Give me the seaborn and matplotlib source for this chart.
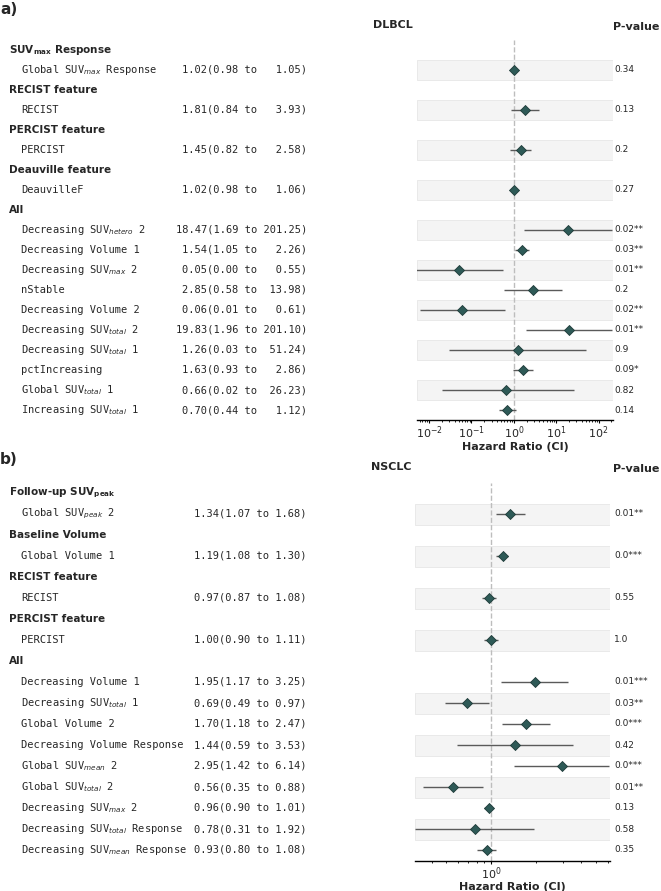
import numpy as np
import pandas as pd
import matplotlib
matplotlib.use("Agg")
import matplotlib.pyplot as plt
import matplotlib.transforms as mtransforms
from matplotlib.ticker import NullFormatter
import seaborn as sns

# ---- panel a) DLBCL ----
groups_a = ["SUV$_\\mathbf{max}$ Response", "RECIST feature", "PERCIST feature",
            "Deauville feature", "All"]
group_of_a = [0, 1, 2, 3] + [4] * 10
labels_a = ["Global SUV$_{max}$ Response", "RECIST", "PERCIST", "DeauvilleF",
            "Decreasing SUV$_{hetero}$ 2", "Decreasing Volume 1", "Decreasing SUV$_{max}$ 2",
            "nStable", "Decreasing Volume 2", "Decreasing SUV$_{total}$ 2",
            "Decreasing SUV$_{total}$ 1", "pctIncreasing", "Global SUV$_{total}$ 1",
            "Increasing SUV$_{total}$ 1"]
hr_a = [1.02, 1.81, 1.45, 1.02, 18.47, 1.54, 0.05, 2.85, 0.06, 19.83, 1.26, 1.63, 0.66, 0.70]
lo_a = [0.98, 0.84, 0.82, 0.98, 1.69, 1.05, 0.004, 0.58, 0.006, 1.96, 0.03, 0.93, 0.02, 0.44]
hi_a = [1.05, 3.93, 2.58, 1.06, 201.25, 2.26, 0.55, 13.98, 0.61, 201.10, 51.24, 2.86, 26.23, 1.12]
p_a = ["0.34", "0.13", "0.2", "0.27", "0.02**", "0.03**", "0.01**", "0.2", "0.02**",
       "0.01**", "0.9", "0.09*", "0.82", "0.14"]

# ---- panel b) NSCLC ----
groups_b = ["Follow-up SUV$_\\mathbf{peak}$", "Baseline Volume", "RECIST feature",
            "PERCIST feature", "All"]
group_of_b = [0, 1, 2, 3] + [4] * 9
labels_b = ["Global SUV$_{peak}$ 2", "Global Volume 1", "RECIST", "PERCIST",
            "Decreasing Volume 1", "Decreasing SUV$_{total}$ 1", "Global Volume 2",
            "Decreasing Volume Response", "Global SUV$_{mean}$ 2", "Global SUV$_{total}$ 2",
            "Decreasing SUV$_{max}$ 2", "Decreasing SUV$_{total}$ Response",
            "Decreasing SUV$_{mean}$ Response"]
hr_b = [1.34, 1.19, 0.97, 1.00, 1.95, 0.69, 1.70, 1.44, 2.95, 0.56, 0.96, 0.78, 0.93]
lo_b = [1.07, 1.08, 0.87, 0.90, 1.17, 0.49, 1.18, 0.59, 1.42, 0.35, 0.90, 0.31, 0.80]
hi_b = [1.68, 1.30, 1.08, 1.11, 3.25, 0.97, 2.47, 3.53, 6.14, 0.88, 1.01, 1.92, 1.08]
p_b = ["0.01**", "0.0***", "0.55", "1.0", "0.01***", "0.03**", "0.0***", "0.42",
       "0.0***", "0.01**", "0.13", "0.58", "0.35"]

sns.set_style("white")
plt.rcParams["font.family"] = ["DejaVu Sans"]
plt.rcParams["mathtext.fontset"] = "dejavusans"

W, H = 661, 891
fig = plt.figure(figsize=(W / 100, H / 100), dpi=100)

MARK = "#2e5a57"
FS = 7.5


def build(groups, group_of, labels, hr, lo, hi, p):
    # a header row for each group, then its data rows
    rows = []
    pos = 0
    for g, name in enumerate(groups):
        rows.append(dict(kind="header", text=name, y=pos))
        pos += 1
        idx = [i for i in range(len(labels)) if group_of[i] == g]
        for k, i in enumerate(idx):
            # stripes alternate up from the last row; lone rows are striped
            striped = len(idx) == 1 or (len(idx) - k) % 2 == 0
            rows.append(dict(kind="data", text=labels[i], hr=hr[i], lo=lo[i],
                             hi=hi[i], p=p[i], y=pos, striped=striped))
            pos += 1
    return pd.DataFrame(rows), pos


def panel(df, nrows, box, xlim, tag, title, tag_y, title_y, pad_hi):
    ax = fig.add_axes(box)
    data = df[df.kind == "data"]
    ax.set_xscale("log")

    for _, r in data[data.striped == True].iterrows():
        ax.axhspan(r.y - 0.5, r.y + 0.5, facecolor="#f4f4f4", edgecolor="#e6e6e6",
                   lw=0.6, zorder=0)
    ax.axvline(1, color="#bdbdbd", ls="--", lw=1, zorder=1)
    ax.hlines(data.y, data.lo, data.hi, color="#5a5a5a", lw=1, zorder=2)
    sns.scatterplot(data=data, x="hr", y="y", marker="D", s=26, color=MARK,
                    edgecolor="#1e3a38", linewidth=0.6, ax=ax, zorder=3)

    ax.set_xlim(*xlim)
    ax.set_ylim(nrows - 0.5, -0.5)
    ax.set_yticks([])
    ax.set_ylabel("")
    sns.despine(ax=ax, left=True, top=True, right=True)
    ax.spines["bottom"].set_color("black")
    ax.spines["bottom"].set_linewidth(1)
    ax.xaxis.set_minor_formatter(NullFormatter())
    ax.tick_params(axis="x", which="major", length=2.5, width=0.8, labelsize=8,
                   bottom=True, color="black", pad=0.8)
    ax.tick_params(axis="x", which="minor", length=1.5, width=0.6, bottom=True, color="black")
    ax.set_xlabel("Hazard Ratio (CI)", fontsize=8, fontweight="bold", labelpad=0.5)

    tr = mtransforms.blended_transform_factory(fig.transFigure, ax.transData)
    for _, r in df.iterrows():
        if r.kind == "header":
            fig.text(9 / W, r.y, r.text, transform=tr, fontsize=FS, fontweight="bold",
                     va="center", ha="left")
        else:
            fig.text(21 / W, r.y, r.text, transform=tr, fontsize=FS,
                     family="DejaVu Sans Mono", va="center", ha="left")
            ci = f"{r.hr:.2f}({r.lo:.2f} to {r.hi:>{pad_hi}.2f})"
            fig.text(307 / W, r.y, ci, transform=tr, fontsize=FS,
                     family="DejaVu Sans Mono", va="center", ha="right")
            fig.text(614 / W, r.y, r.p, transform=tr, fontsize=6.5, va="center", ha="left")

    fig.text(0, 1 - tag_y / H, tag, fontsize=11, fontweight="bold", va="center", ha="left")
    fig.text(box[0] - 44 / W, 1 - title_y / H, title, fontsize=8, fontweight="bold",
             va="center", ha="left")
    fig.text(613 / W, 1 - (title_y + 2) / H, "P-value", fontsize=8, fontweight="bold",
             va="center", ha="left")
    return ax


df_a, n_a = build(groups_a, group_of_a, labels_a, hr_a, lo_a, hi_a, p_a)
df_b, n_b = build(groups_b, group_of_b, labels_b, hr_b, lo_b, hi_b, p_b)

panel(df_a, n_a, [417 / W, 1 - 420 / H, 196 / W, 380 / H], (0.0052, 218),
      "a)", "DLBCL", 10, 25, 6)
panel(df_b, n_b, [415 / W, 1 - 860.5 / H, 195 / W, 378 / H], (0.31, 6.2),
      "b)", "NSCLC", 460, 467, 0)

fig.savefig("out.png", dpi=100)
